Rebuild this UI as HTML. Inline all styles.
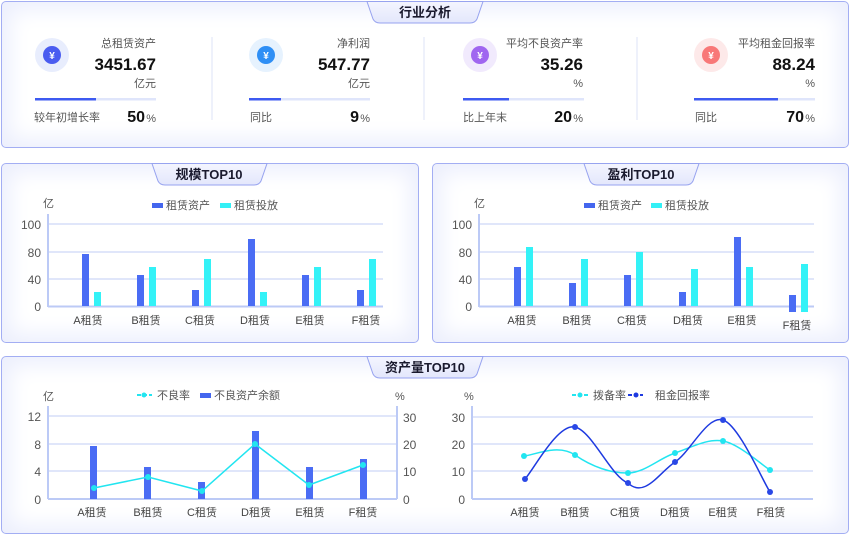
<!DOCTYPE html>
<html><head><meta charset="utf-8"><style>
html,body{margin:0;padding:0;background:#fff;width:850px;height:535px;overflow:hidden}
.p{position:absolute;border:1px solid #a3aef3;border-radius:5px;background:#fff;box-shadow:inset 0 0 22px 8px #eceffd;box-sizing:border-box}
svg{position:absolute;left:0;top:0}
text{font-family:"Liberation Sans","Noto Sans CJK SC",sans-serif}
</style></head><body>
<div class="p" style="left:1px;top:1px;width:848px;height:147px"></div>
<div class="p" style="left:1px;top:163px;width:418px;height:180px"></div>
<div class="p" style="left:432px;top:163px;width:417px;height:180px"></div>
<div class="p" style="left:1px;top:356px;width:848px;height:178px"></div>
<svg width="850" height="535" viewBox="0 0 850 535">
<defs><linearGradient id="tg" x1="0" y1="0" x2="0" y2="1"><stop offset="0" stop-color="#f4f5fe"/><stop offset="1" stop-color="#e3e7fc"/></linearGradient></defs>
<g fill="url(#tg)" stroke="#97a3ef" stroke-width="1">
<path d="M367,1.5 L483,1.5 L477,19 Q475,23 470,23 L380,23 Q375,23 373,19 Z"/>
<path d="M152,163.5 L267,163.5 L261,181 Q259,185 254,185 L165,185 Q160,185 158,181 Z"/>
<path d="M584,163.5 L699,163.5 L693,181 Q691,185 686,185 L597,185 Q592,185 590,181 Z"/>
<path d="M367,356.5 L483,356.5 L477,374 Q475,378 470,378 L380,378 Q375,378 373,374 Z"/>
</g>
<g font-weight="bold" font-size="13" fill="#1a1a2e" text-anchor="middle">
<text x="425" y="17">行业分析</text>
<text x="209" y="179">规模TOP10</text>
<text x="641" y="179">盈利TOP10</text>
<text x="425" y="372">资产量TOP10</text>
</g>
<!-- KPI -->
<g stroke="#dde3f7"><line x1="212" y1="37" x2="212" y2="120"/><line x1="424" y1="37" x2="424" y2="120"/><line x1="637" y1="37" x2="637" y2="120"/></g>
<g font-size="11" fill="#555" text-anchor="end">
<circle cx="52" cy="55" r="17" fill="#e8edfd"/><circle cx="52" cy="55" r="9" fill="#4a5cf0"/>
<circle cx="266" cy="55" r="17" fill="#e6f2fe"/><circle cx="266" cy="55" r="9" fill="#2f8ff5"/>
<circle cx="480" cy="55" r="17" fill="#f1eafd"/><circle cx="480" cy="55" r="9" fill="#a066f0"/>
<circle cx="711" cy="55" r="17" fill="#fde9e9"/><circle cx="711" cy="55" r="9" fill="#f87878"/>
<g fill="#fff" font-size="10" font-weight="bold" text-anchor="middle"><text x="52" y="59">¥</text><text x="266" y="59">¥</text><text x="480" y="59">¥</text><text x="711" y="59">¥</text></g>
<text x="156" y="47">总租赁资产</text><text x="370" y="47">净利润</text><text x="583" y="47">平均不良资产率</text><text x="815" y="47">平均租金回报率</text>
<g font-size="17" font-weight="bold" fill="#111"><text x="156" y="70">3451.67</text><text x="370" y="70">547.77</text><text x="583" y="70">35.26</text><text x="815" y="70">88.24</text></g>
<text x="156" y="87">亿元</text><text x="370" y="87">亿元</text><text x="583" y="87">%</text><text x="815" y="87">%</text>
<g fill="#dfe5fb"><rect x="35" y="98" width="121" height="2.5"/><rect x="249" y="98" width="121" height="2.5"/><rect x="463" y="98" width="121" height="2.5"/><rect x="694" y="98" width="121" height="2.5"/></g>
<g fill="#3d5af1"><rect x="35" y="98" width="61" height="2.5"/><rect x="249" y="98" width="32" height="2.5"/><rect x="463" y="98" width="46" height="2.5"/><rect x="694" y="98" width="84" height="2.5"/></g>
<g text-anchor="start"><text x="34" y="121">较年初增长率</text><text x="250" y="121">同比</text><text x="463" y="121">比上年末</text><text x="695" y="121">同比</text></g>
<g font-size="16" font-weight="bold" fill="#111"><text x="145" y="122">50</text><text x="359" y="122">9</text><text x="572" y="122">20</text><text x="804" y="122">70</text></g>
<g font-size="11"><text x="156" y="122">%</text><text x="370" y="122">%</text><text x="583" y="122">%</text><text x="815" y="122">%</text></g>
</g>
<!-- chart 2 -->
<g stroke="#c2cdf6" stroke-width="1"><line x1="48" y1="224" x2="383" y2="224"/><line x1="48" y1="252" x2="383" y2="252"/><line x1="48" y1="279" x2="383" y2="279"/>
<line x1="479" y1="224" x2="814" y2="224"/><line x1="479" y1="252" x2="814" y2="252"/><line x1="479" y1="279" x2="814" y2="279"/>
<line x1="48" y1="416" x2="397" y2="416"/><line x1="48" y1="444" x2="397" y2="444"/><line x1="48" y1="471" x2="397" y2="471"/>
<line x1="472" y1="417" x2="813" y2="417"/><line x1="472" y1="444" x2="813" y2="444"/><line x1="472" y1="471" x2="813" y2="471"/></g>
<g stroke="#bccaf6" stroke-width="2"><line x1="48" y1="214" x2="48" y2="307"/><line x1="48" y1="306.5" x2="383" y2="306.5"/>
<line x1="479" y1="214" x2="479" y2="307"/><line x1="479" y1="306.5" x2="814" y2="306.5"/>
<line x1="48" y1="406" x2="48" y2="499"/><line x1="397" y1="406" x2="397" y2="499"/><line x1="48" y1="499" x2="397" y2="499"/>
<line x1="472" y1="406" x2="472" y2="499"/><line x1="472" y1="499" x2="813" y2="499"/></g>
<g font-size="11" fill="#555">
<text x="43" y="207">亿</text><text x="474" y="207">亿</text><text x="43" y="400">亿</text><text x="395" y="400">%</text><text x="464" y="400">%</text>
<rect x="152" y="203" width="11" height="5" fill="#4466ee"/><text x="166" y="209">租赁资产</text>
<rect x="220" y="203" width="11" height="5" fill="#33f0f6"/><text x="234" y="209">租赁投放</text>
<rect x="584" y="203" width="11" height="5" fill="#4466ee"/><text x="598" y="209">租赁资产</text>
<rect x="651" y="203" width="11" height="5" fill="#33f0f6"/><text x="665" y="209">租赁投放</text>
<line x1="137" y1="395" x2="152" y2="395" stroke="#22e5f0" stroke-width="2" stroke-dasharray="4 2"/><circle cx="144" cy="395" r="2.5" fill="#22e5f0"/><text x="157" y="399">不良率</text>
<rect x="200" y="393" width="11" height="5" fill="#4466ee"/><text x="214" y="399">不良资产余额</text>
<line x1="572" y1="395" x2="588" y2="395" stroke="#22e5f0" stroke-width="2" stroke-dasharray="4 2"/><circle cx="580" cy="395" r="2.5" fill="#22e5f0"/><text x="593" y="399">拨备率</text>
<line x1="628" y1="395" x2="643" y2="395" stroke="#1e3ae0" stroke-width="2" stroke-dasharray="4 2"/><circle cx="636" cy="395" r="2.5" fill="#1e3ae0"/><text x="655" y="399">租金回报率</text>
</g>
<g font-size="12" fill="#555" text-anchor="end">
<text x="41" y="229">100</text><text x="41" y="257">80</text><text x="41" y="284">40</text><text x="41" y="311">0</text>
<text x="472" y="229">100</text><text x="472" y="257">80</text><text x="472" y="284">40</text><text x="472" y="311">0</text>
<text x="41" y="421">12</text><text x="41" y="449">8</text><text x="41" y="476">4</text><text x="41" y="504">0</text>
<text x="465" y="422">30</text><text x="465" y="449">20</text><text x="465" y="476">10</text><text x="465" y="504">0</text>
</g>
<g font-size="12" fill="#555"><text x="403" y="422">30</text><text x="403" y="449">20</text><text x="403" y="476">10</text><text x="403" y="504">0</text></g>
<g font-size="11" fill="#444" text-anchor="middle">
<text x="88" y="324">A租赁</text><text x="146" y="324">B租赁</text><text x="200" y="324">C租赁</text><text x="255" y="324">D租赁</text><text x="310" y="324">E租赁</text><text x="366" y="324">F租赁</text>
<text x="522" y="324">A租赁</text><text x="577" y="324">B租赁</text><text x="632" y="324">C租赁</text><text x="688" y="324">D租赁</text><text x="742" y="324">E租赁</text><text x="797" y="329">F租赁</text>
<text x="92" y="516">A租赁</text><text x="148" y="516">B租赁</text><text x="202" y="516">C租赁</text><text x="256" y="516">D租赁</text><text x="310" y="516">E租赁</text><text x="363" y="516">F租赁</text>
<text x="525" y="516">A租赁</text><text x="575" y="516">B租赁</text><text x="625" y="516">C租赁</text><text x="675" y="516">D租赁</text><text x="723" y="516">E租赁</text><text x="771" y="516">F租赁</text>
</g>
<g fill="#4a6cf4">
<rect x="82" y="254" width="7" height="52"/><rect x="137" y="275" width="7" height="31"/><rect x="192" y="290" width="7" height="16"/><rect x="248" y="239" width="7" height="67"/><rect x="302" y="275" width="7" height="31"/><rect x="357" y="290" width="7" height="16"/>
<rect x="514" y="267" width="7" height="39"/><rect x="569" y="283" width="7" height="23"/><rect x="624" y="275" width="7" height="31"/><rect x="679" y="292" width="7" height="14"/><rect x="734" y="237" width="7" height="69"/><rect x="789" y="295" width="7" height="17"/>
<rect x="90" y="446" width="7" height="53"/><rect x="144" y="467" width="7" height="32"/><rect x="198" y="482" width="7" height="17"/><rect x="252" y="431" width="7" height="68"/><rect x="306" y="467" width="7" height="32"/><rect x="360" y="459" width="7" height="40"/>
</g>
<g fill="#33f2f7">
<rect x="94" y="292" width="7" height="14"/><rect x="149" y="267" width="7" height="39"/><rect x="204" y="259" width="7" height="47"/><rect x="260" y="292" width="7" height="14"/><rect x="314" y="267" width="7" height="39"/><rect x="369" y="259" width="7" height="47"/>
<rect x="526" y="247" width="7" height="59"/><rect x="581" y="259" width="7" height="47"/><rect x="636" y="252" width="7" height="54"/><rect x="691" y="269" width="7" height="37"/><rect x="746" y="267" width="7" height="39"/><rect x="801" y="264" width="7" height="48"/>
</g>
<polyline points="94,488 148,477 202,491 255,444 309,485 363,465" fill="none" stroke="#22e5f0" stroke-width="1.5"/>
<g fill="#22e5f0"><circle cx="94" cy="488" r="3"/><circle cx="148" cy="477" r="3"/><circle cx="202" cy="491" r="3"/><circle cx="255" cy="444" r="3"/><circle cx="309" cy="485" r="3"/><circle cx="363" cy="465" r="3"/></g>
<path d="M524,456 C532.5,455.8 557.7,443 575,455 C592.3,467 611.3,473.3 628,473 C644.7,472.7 659.2,458.3 675,453 C690.8,447.7 707.2,438.2 723,441 C738.8,443.8 762.2,465.2 770,470" fill="none" stroke="#22e5f0" stroke-width="1.5"/>
<path d="M525,479 C533.3,470.3 557.8,423 575,427 C592.2,431 611.3,477.2 628,483 C644.7,498.8 659.2,472.5 675,462 C690.8,451.5 707.2,415 723,420 C738.8,425 762.2,480 770,492" fill="none" stroke="#1e3ae0" stroke-width="1.5"/>
<g fill="#22e5f0"><circle cx="524" cy="456" r="3"/><circle cx="575" cy="455" r="3"/><circle cx="628" cy="473" r="3"/><circle cx="675" cy="453" r="3"/><circle cx="723" cy="441" r="3"/><circle cx="770" cy="470" r="3"/></g>
<g fill="#2a48e6"><circle cx="525" cy="479" r="3"/><circle cx="575" cy="427" r="3"/><circle cx="628" cy="483" r="3"/><circle cx="675" cy="462" r="3"/><circle cx="723" cy="420" r="3"/><circle cx="770" cy="492" r="3"/></g>
</svg>
</body></html>
